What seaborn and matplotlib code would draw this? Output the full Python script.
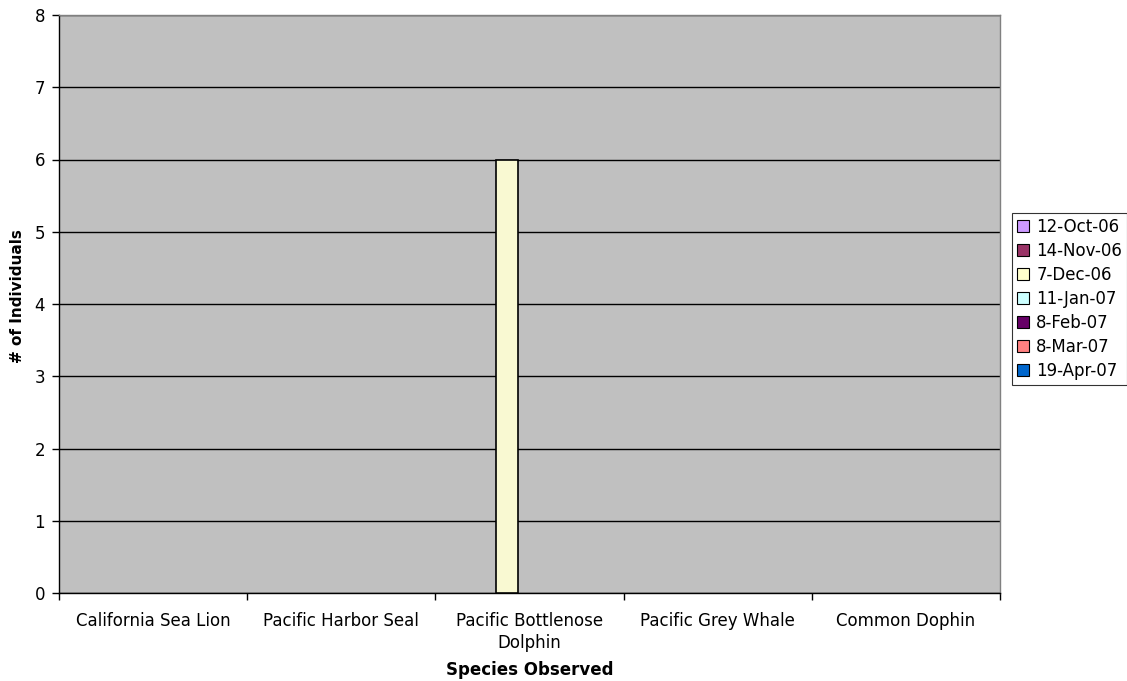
import numpy as np
import pandas as pd
import matplotlib
matplotlib.use("Agg")
import matplotlib.pyplot as plt
import seaborn as sns
from matplotlib.patches import Patch
from matplotlib.ticker import FixedLocator

species = ["California Sea Lion", "Pacific Harbor Seal", "Pacific Bottlenose\nDolphin",
           "Pacific Grey Whale", "Common Dophin"]
dates = ["12-Oct-06", "14-Nov-06", "7-Dec-06", "11-Jan-07", "8-Feb-07", "8-Mar-07", "19-Apr-07"]
counts_oct06 = [0, 0, 0, 0, 0]
counts_nov06 = [0, 0, 0, 0, 0]
counts_dec06 = [0, 0, 6, 0, 0]
counts_jan07 = [0, 0, 0, 0, 0]
counts_feb07 = [0, 0, 0, 0, 0]
counts_mar07 = [0, 0, 0, 0, 0]
counts_apr07 = [0, 0, 0, 0, 0]
colors = ["#CC99FF", "#993366", "#FFFFCC", "#CCFFFF", "#660066", "#FF8080", "#0066CC"]

series = [counts_oct06, counts_nov06, counts_dec06, counts_jan07,
          counts_feb07, counts_mar07, counts_apr07]
rows = []
for d, vals in zip(dates, series):
    for s, v in zip(species, vals):
        rows.append({"Species": s, "Date": d, "Count": v})
df = pd.DataFrame(rows)

sns.set_style("white")
plt.rcParams["font.family"] = ["DejaVu Sans"]
plt.rcParams["text.color"] = "black"
plt.rcParams["axes.labelcolor"] = "black"
plt.rcParams["xtick.color"] = "black"
plt.rcParams["ytick.color"] = "black"

fig = plt.figure(figsize=(11.27, 6.81), dpi=100)
ax = fig.add_axes([59 / 1127, (681 - 593) / 681, 941 / 1127, 578 / 681])
ax.set_facecolor("#C0C0C0")

sns.barplot(data=df, x="Species", y="Count", hue="Date", hue_order=dates,
            order=species, palette=colors, width=0.822, gap=0,
            edgecolor="black", linewidth=1.2, ax=ax, legend=False, zorder=3)

# Hide outlines of empty bars
for p in ax.patches:
    if p.get_height() == 0:
        p.set_linewidth(0)

ax.set_xlim(-0.5, len(species) - 0.5)
ax.set_ylim(0, 8)
ax.set_yticks(range(0, 9))
ax.yaxis.grid(True, color="black", linewidth=1, zorder=1)
ax.set_axisbelow(True)
ax.xaxis.grid(False)

ax.tick_params(axis="x", which="major", length=0, pad=13.5, labelsize=12, colors="black")
ax.xaxis.set_minor_locator(FixedLocator(np.arange(-0.5, len(species), 1.0)))
ax.tick_params(axis="x", which="minor", length=5, width=1, direction="out", color="black")
ax.tick_params(axis="y", length=5, width=1, direction="out", colors="black", labelsize=12, pad=5)
ax.tick_params(axis="y", left=True)
ax.tick_params(axis="x", which="minor", bottom=True)
for t in ax.get_xticklabels():
    t.set_linespacing(1.27)

for side in ["left", "bottom"]:
    ax.spines[side].set_color("black")
    ax.spines[side].set_linewidth(1)
for side in ["top", "right"]:
    ax.spines[side].set_visible(True)
    ax.spines[side].set_color("#808080")
    ax.spines[side].set_linewidth(1)

ax.set_xlabel("Species Observed", fontsize=12, fontweight="bold", va="center", color="black")
ax.xaxis.set_label_coords(0.5, (593 - 670) / 578)
ax.set_ylabel("# of Individuals", fontsize=11, fontweight="bold", va="center", color="black")
ax.yaxis.set_label_coords((18 - 59) / 941, (593 - 296) / 578)

handles = [Patch(facecolor=c, edgecolor="black", linewidth=0.8) for c in colors]
leg = fig.legend(handles, dates, loc="upper left", bbox_to_anchor=(1012 / 1127, (681 - 213) / 681),
                 frameon=True, fancybox=False, edgecolor="black", fontsize=12,
                 handlelength=0.7, handleheight=0.7, handletextpad=0.45,
                 labelspacing=0.36, borderpad=0.3, borderaxespad=0, labelcolor="black")
leg.get_frame().set_linewidth(0.8)

fig.savefig("out.png", dpi=100, facecolor="white")
